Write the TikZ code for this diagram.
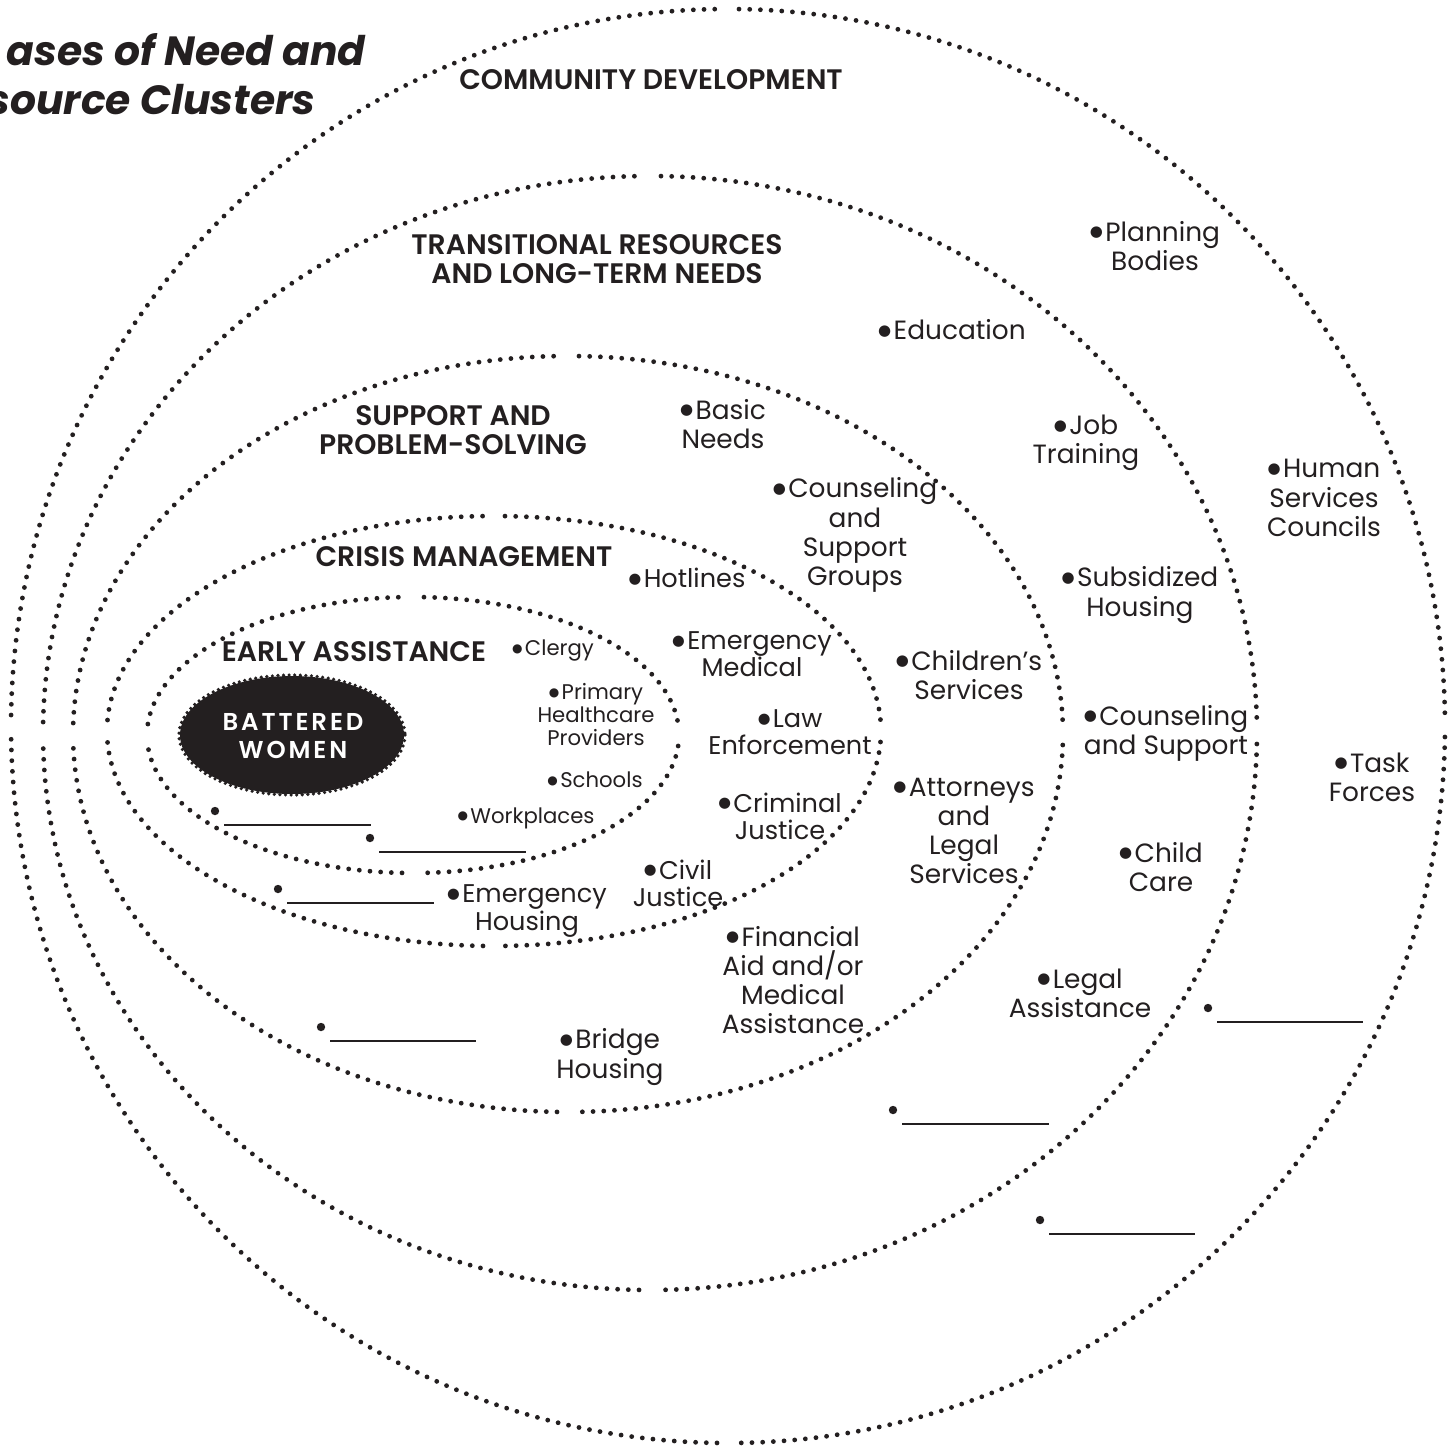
\documentclass[tikz,border=0pt]{standalone}
\usepackage{fontspec}
\setmainfont{Poppins}[BoldFont={Poppins SemiBold}, BoldItalicFont={Poppins Bold Italic}]
\newfontfamily\bulfont{DejaVu Sans}
\usetikzlibrary{shapes.geometric}
\definecolor{ink}{HTML}{231F20}
\newcommand\dotring[4]{%
  \pgfmathsetmacro\gapA{630/#3}%
  \pgfmathsetmacro\gapB{630/#4}%
  \foreach \k in {0,180}{%
    \draw[dotline] (#1,#2) ++(\k+\gapB:#3 and #4) arc[start angle=\k+\gapB, end angle=\k+90-\gapA, x radius=#3, y radius=#4];
    \draw[dotline] (#1,#2) ++(\k+90+\gapA:#3 and #4) arc[start angle=\k+90+\gapA, end angle=\k+180-\gapB, x radius=#3, y radius=#4];
  }%
}
\newcommand\blankitem[3]{%
  \fill[ink] (#1,#2) circle[radius=2.1pt];
  \draw[ink, line width=0.7pt] (#1+9,#2+14) -- (#1+9+#3,#2+14);
}
\newcommand\bsz{7.5}
\newcommand\brs{2.2pt}
\newcommand\bul{\raisebox{\brs}{\bulfont\fontsize{\bsz}{\bsz}\selectfont ●}\hspace{1.2pt}}
\tikzset{
  dotline/.style={ink, line width=2.4pt, dash pattern=on 0pt off 5.35pt, line cap=round},
  lbl/.style={ink, font=\fontsize{13.2}{14.6}\selectfont, align=center, inner sep=0pt},
  midl/.style={ink, font=\renewcommand\bsz{7.3}\renewcommand\brs{2.1pt}\fontsize{12.8}{13.6}\selectfont, align=center, inner sep=0pt},
  sml/.style={ink, font=\renewcommand\bsz{6}\renewcommand\brs{1.8pt}\fontsize{10.6}{11.5}\selectfont, align=center, inner sep=0pt},
  hd/.style={ink, font=\bfseries\fontsize{14.1}{14.3}\selectfont, align=center, inner sep=0pt},
  ttl/.style={ink, font=\bfseries\itshape\fontsize{20.4}{25}\selectfont, inner sep=0pt, anchor=east},
}
\begin{document}
\begin{tikzpicture}[x=0.5pt, y=-0.5pt]
\useasboundingbox (0,0) rectangle (1455,1446);
\fill[white] (0,0) rectangle (1455,1446);
% rings
\dotring{728}{726}{717}{717}
\dotring{650}{733}{607}{557}
\dotring{568}{734}{495}{378}
\dotring{494}{731}{387}{215}
\dotring{413}{735}{266}{138}
% battered women
\fill[ink] (292,735) ellipse[x radius=112, y radius=59];
\draw[ink, line width=1.8pt, dash pattern=on 0pt off 2.8pt, line cap=round] (292,735) ellipse[x radius=113, y radius=60];
\node[white, font=\bfseries\fontsize{12.2}{14}\selectfont\addfontfeature{LetterSpace=12}, align=center, inner sep=0pt] (bw) at (293,736) {BATTERED\\WOMEN};
% title
\node[ttl] (t1) at (366,50) {ases of Need and};
\node[ttl] (t2) at (316,100) {esource Clusters};
% headings
\node[hd] (h1) at (651,80) {COMMUNITY DEVELOPMENT};
\node[hd] (h2) at (597,259) {TRANSITIONAL RESOURCES\\AND LONG-TERM NEEDS};
\node[hd] (h3) at (453,430) {SUPPORT AND\\PROBLEM-SOLVING};
\node[hd] (h4) at (464,557) {CRISIS MANAGEMENT};
\node[hd] (h5) at (354,652) {EARLY ASSISTANCE};
% community ring
\node[lbl] (planning) at (1155,246) {\bul Planning\\Bodies};
\node[lbl] (human) at (1324,498) {\bul Human\\Services\\Councils};
\node[lbl] (task) at (1372,777) {\bul Task\\Forces};
% transitional ring
\node[lbl] (educ) at (952,330) {\bul Education};
\node[lbl] (job) at (1086,443) {\bul Job\\Training};
\node[lbl] (subs) at (1140,595) {\bul Subsidized\\Housing};
\node[lbl] (couns2) at (1166,733) {\bul Counseling\\and Support};
\node[lbl] (child) at (1161,867) {\bul Child\\Care};
\node[lbl] (legal) at (1080,993) {\bul Legal\\Assistance};
% support ring
\node[lbl] (basic) at (723,424) {\bul Basic\\Needs};
\node[lbl] (couns1) at (855,535) {\bul Counseling\\and\\Support\\Groups};
\node[lbl] (childs) at (969,675) {\bul Children’s\\Services};
\node[lbl] (attor) at (964,831) {\bul Attorneys\\and\\Legal\\Services};
\node[lbl] (fin) at (793,980) {\bul Financial\\Aid and/or\\Medical\\Assistance};
\node[lbl] (bridge) at (610,1057) {\bul Bridge\\Housing};
% crisis ring
\node[midl] (hot) at (687,578) {\bul Hotlines};
\node[midl] (emed) at (752,654) {\bul Emergency\\Medical};
\node[midl] (law) at (790,732) {\bul Law\\Enforcement};
\node[midl] (crim) at (780,816) {\bul Criminal\\Justice};
\node[midl] (civil) at (678,883) {\bul Civil\\Justice};
\node[midl] (ehous) at (527,911) {\bul Emergency\\Housing};
% early ring
\node[sml] (clergy) at (553,651) {\bul Clergy};
\node[sml] (prim) at (596,715) {\bul Primary\\Healthcare\\Providers};
\node[sml] (school) at (595,780) {\bul Schools};
\node[sml] (work) at (526,818) {\bul Workplaces};
% blanks
\blankitem{215}{811}{147}
\blankitem{370}{838}{147}
\blankitem{278}{889}{147}
\blankitem{321}{1027}{146}
\blankitem{1208}{1008}{146}
\blankitem{893}{1110}{147}
\blankitem{1040}{1220}{146}
\end{tikzpicture}
\end{document}
